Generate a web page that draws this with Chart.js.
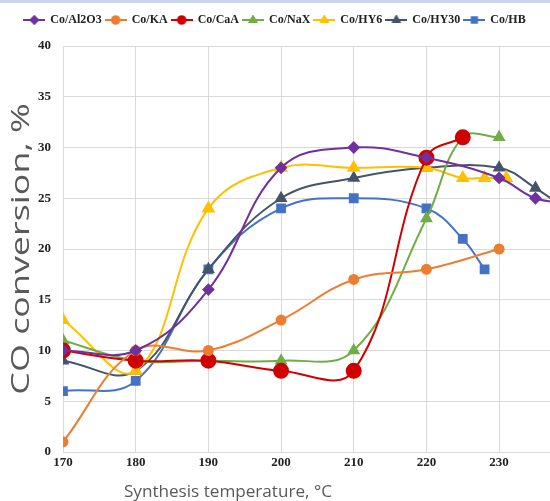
<!DOCTYPE html>
<html>
<head>
<meta charset="utf-8">
<script src="https://cdn.jsdelivr.net/npm/chart.js@4/dist/chart.umd.min.js"></script>
<style>
  html, body { margin: 0; padding: 0; background: #fff; overflow: hidden; }
  #wrap { position: relative; width: 550px; height: 501px; }
  #topbar { position: absolute; left: 0; top: 0; width: 550px; height: 3px; background: #c9d5e8; }
</style>
</head>
<body>
<div id="wrap">
  <canvas id="chart" width="550" height="501"></canvas>
  <div id="topbar"></div>
</div>
<script>
// temperatures (x) and CO conversion (%) per catalyst
const seriesNames = ['Co/Al2O3', 'Co/KA', 'Co/CaA', 'Co/NaX', 'Co/HY6', 'Co/HY30', 'Co/HB'];

const tempAl2O3 = [170, 180, 190, 200, 210, 220, 230, 235, 240];
const convAl2O3 = [10, 10, 16, 28, 30, 29, 27, 25, 24.5];

const tempKA = [170, 180, 190, 200, 210, 220, 230];
const convKA = [1, 10, 10, 13, 17, 18, 20];

const tempCaA = [170, 180, 190, 200, 210, 220, 225];
const convCaA = [10, 9, 9, 8, 8, 29, 31];

const tempNaX = [170, 180, 190, 200, 210, 220, 225, 230];
const convNaX = [11, 9, 9, 9, 10, 23, 31, 31];

const tempHY6 = [170, 180, 190, 200, 210, 220, 225, 228, 231];
const convHY6 = [13, 8, 24, 28, 28, 28, 27, 27, 27];

const tempHY30 = [170, 180, 190, 200, 210, 220, 230, 235, 240];
const convHY30 = [9, 8, 18, 25, 27, 28, 28, 26, 23.5];

const tempHB = [170, 180, 190, 200, 210, 220, 225, 228];
const convHB = [6, 7, 18, 24, 25, 24, 21, 18];

const xTicks = [170, 180, 190, 200, 210, 220, 230];
const yTicks = [0, 5, 10, 15, 20, 25, 30, 35, 40];

const colors = ['#7030a0', '#ed7d31', '#d00000', '#70ad47', '#ffc000', '#44546a', '#4472c4'];
const markers = ['rectRot', 'circle', 'circle', 'triangle', 'triangle', 'triangle', 'rect'];
const radii = [5, 4.5, 7, 5.5, 6, 5.5, 5.5];

const temps = [tempAl2O3, tempKA, tempCaA, tempNaX, tempHY6, tempHY30, tempHB];
const convs = [convAl2O3, convKA, convCaA, convNaX, convHY6, convHY30, convHB];

function toPoints(xs, ys) {
  return xs.map((x, i) => ({ x: x, y: ys[i] }));
}

// little line+marker icons for the legend
function legendIcon(i) {
  const c = document.createElement('canvas');
  c.width = 22; c.height = 10;
  const ctx = c.getContext('2d');
  ctx.strokeStyle = colors[i];
  ctx.fillStyle = colors[i];
  ctx.lineWidth = 2;
  ctx.beginPath();
  ctx.moveTo(0, 5);
  ctx.lineTo(22, 5);
  ctx.stroke();
  Chart.helpers.drawPoint(ctx, { pointStyle: markers[i], radius: 3.8, rotation: 0, borderWidth: 1 }, 11, 5);
  return c;
}

const datasets = seriesNames.map((name, i) => ({
  label: name,
  data: toPoints(temps[i], convs[i]),
  borderColor: colors[i],
  backgroundColor: colors[i],
  pointBackgroundColor: colors[i],
  pointBorderColor: colors[i],
  pointStyle: markers[i],
  pointRadius: radii[i],
  borderWidth: 2,
  tension: 0.4
}));

const legendGap = {
  id: 'legendGap',
  beforeInit(chart) {
    const fit = chart.legend.fit;
    chart.legend.fit = function () {
      fit.bind(chart.legend)();
      this.height += 10;
    };
  }
};

// axis titles, stretched a bit along the text like the original picture
const axisTitles = {
  id: 'axisTitles',
  afterDraw(chart) {
    const ctx = chart.ctx;
    const area = chart.chartArea;
    ctx.save();
    ctx.fillStyle = '#595959';
    ctx.textAlign = 'center';
    ctx.textBaseline = 'middle';
    ctx.font = '16px "Open Sans"';
    ctx.translate(228, 492);
    ctx.scale(1.07, 1);
    ctx.fillText('Synthesis temperature, °C', 0, 0);
    ctx.restore();

    ctx.save();
    ctx.fillStyle = '#595959';
    ctx.textAlign = 'center';
    ctx.textBaseline = 'middle';
    ctx.font = '26px "Open Sans"';
    ctx.translate(22, (area.top + area.bottom) / 2);
    ctx.rotate(-Math.PI / 2);
    ctx.scale(1.38, 1);
    ctx.fillText('CO conversion, %', 0, 0);
    ctx.restore();
  }
};

new Chart(document.getElementById('chart'), {
  type: 'line',
  data: { datasets: datasets },
  options: {
    responsive: false,
    animation: false,
    layout: { autoPadding: false, padding: { top: 10, left: 0, right: 0, bottom: 0 } },
    plugins: {
      tooltip: { enabled: false },
      legend: {
        position: 'top',
        labels: {
          usePointStyle: true,
          pointStyleWidth: 20,
          padding: 4,
          color: '#222',
          font: { family: '"Liberation Serif"', size: 12, weight: 'bold' },
          generateLabels: (chart) =>
            Chart.defaults.plugins.legend.labels.generateLabels(chart)
              .map((l, i) => ({ ...l, pointStyle: legendIcon(i) }))
        }
      }
    },
    scales: {
      x: {
        type: 'linear',
        min: 170,
        max: 237,
        afterBuildTicks: (s) => { s.ticks = xTicks.map(v => ({ value: v })); },
        afterFit: (s) => { s.height = 49; s.paddingLeft = 0; s.paddingRight = 0; },
        grid: { color: '#d9d9d9', drawTicks: false },
        border: { color: '#d9d9d9' },
        ticks: {
          padding: 3,
          color: '#222',
          font: { family: '"Liberation Serif"', size: 13, weight: 'bold' }
        }
      },
      y: {
        min: 0,
        max: 40,
        afterBuildTicks: (s) => { s.ticks = yTicks.map(v => ({ value: v })); },
        afterFit: (s) => { s.width = 63; },
        grid: { color: '#d9d9d9', drawTicks: false },
        border: { color: '#d9d9d9' },
        ticks: {
          padding: 12,
          color: '#222',
          font: { family: '"Liberation Serif"', size: 13, weight: 'bold' }
        }
      }
    }
  },
  plugins: [legendGap, axisTitles]
});
</script>
</body>
</html>
